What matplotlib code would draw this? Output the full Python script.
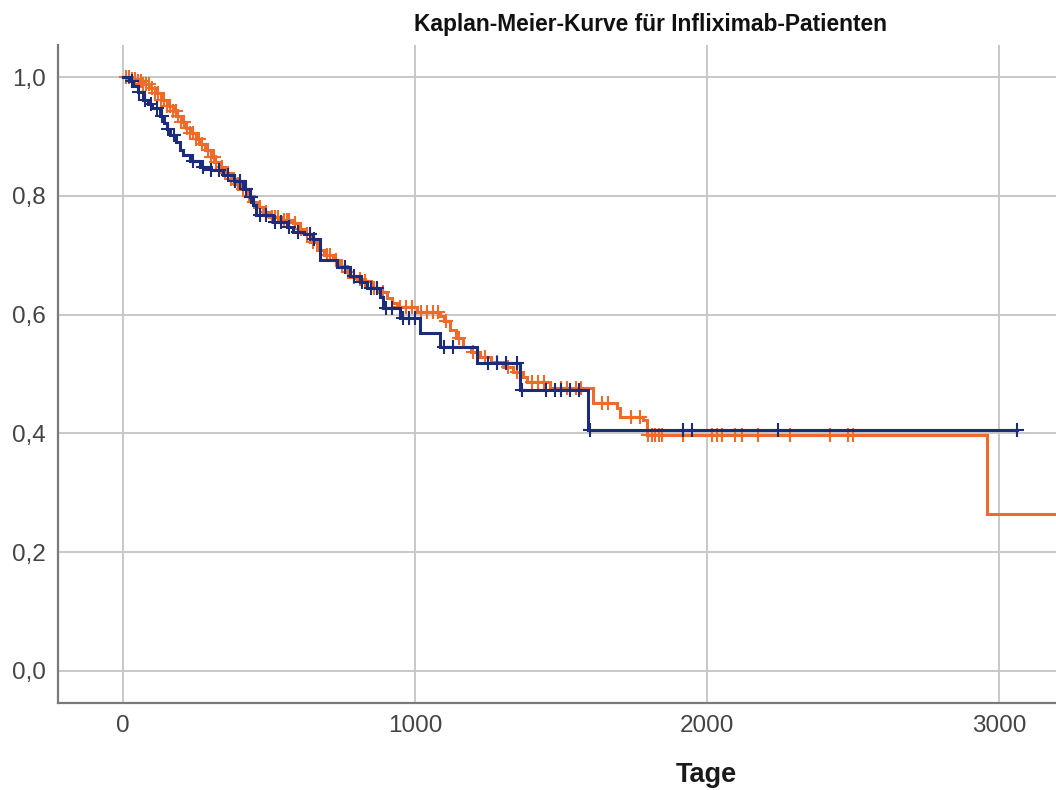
import numpy as np
import matplotlib
matplotlib.use("Agg")
import matplotlib.pyplot as plt
from matplotlib.ticker import FuncFormatter

# ---- data ----
navy_t = [0, 20, 35, 50, 68, 85, 100, 127, 140, 150, 161, 180, 195, 205, 230, 264, 300, 342,
          380, 411, 435, 445, 455, 514, 560, 582, 620, 651, 675, 733, 777, 810, 836, 880, 890,
          949, 1017, 1086, 1212, 1360, 1592]
navy_s = [1.0, 0.993, 0.985, 0.975, 0.962, 0.955, 0.948, 0.935, 0.922, 0.912, 0.902, 0.89,
          0.878, 0.868, 0.858, 0.848, 0.843, 0.835, 0.825, 0.812, 0.798, 0.785, 0.768, 0.756,
          0.748, 0.739, 0.735, 0.728, 0.692, 0.680, 0.665, 0.655, 0.645, 0.630, 0.612, 0.594,
          0.569, 0.545, 0.519, 0.473, 0.406]
navy_end = 3062
navy_cens = [30, 55, 75, 95, 115, 132, 155, 175, 240, 275, 300, 330, 360, 385, 400, 420, 440,
             470, 490, 520, 540, 570, 600, 640, 655, 760, 790, 820, 850, 870, 900, 920, 960,
             980, 1000, 1100, 1130, 1250, 1280, 1310, 1350, 1365, 1450, 1480, 1500, 1530,
             1560, 1600, 1918, 1949, 2243, 3062]

orange_t = [0, 30, 50, 70, 92, 110, 130, 150, 170, 185, 200, 215, 230, 250, 264, 280, 300, 315,
            332, 350, 370, 385, 401, 420, 440, 460, 480, 500, 540, 582, 600, 620, 640, 664, 690,
            719, 740, 760, 777, 800, 822, 850, 875, 904, 920, 938, 1007, 1086, 1100, 1120, 1140,
            1164, 1190, 1223, 1260, 1301, 1335, 1370, 1384, 1462, 1610, 1692, 1702, 1781, 1795,
            2959]
orange_s = [1.0, 0.997, 0.993, 0.988, 0.982, 0.973, 0.962, 0.952, 0.943, 0.935, 0.925, 0.915,
            0.905, 0.895, 0.887, 0.877, 0.866, 0.857, 0.848, 0.838, 0.828, 0.82, 0.812, 0.80,
            0.79, 0.782, 0.772, 0.764, 0.76, 0.754, 0.745, 0.735, 0.722, 0.709, 0.700, 0.692,
            0.682, 0.672, 0.663, 0.660, 0.656, 0.645, 0.638, 0.628, 0.62, 0.613, 0.604, 0.598,
            0.59, 0.574, 0.56, 0.545, 0.537, 0.529, 0.52, 0.512, 0.503, 0.495, 0.487, 0.476,
            0.451, 0.443, 0.428, 0.423, 0.397, 0.264]
orange_end = 3400
orange_cens = [10, 20, 30, 40, 50, 60, 70, 80, 90, 100, 110, 120, 130, 140, 150, 160, 170, 180,
               190, 200, 210, 220, 230, 240, 250, 260, 270, 290, 300, 310, 320, 340, 350, 360,
               370, 380, 395, 410, 430, 450, 470, 490, 510, 520, 530, 550, 560, 570, 590, 610,
               630, 650, 700, 710, 730, 750, 770, 790, 810, 830, 860, 890, 950, 970, 990, 1020,
               1040, 1060, 1080, 1105, 1150, 1200, 1240, 1280, 1320, 1350, 1400, 1420, 1440,
               1500, 1520, 1550, 1570, 1640, 1660, 1740, 1770, 1798, 1810, 1822, 1834, 1846,
               1918, 2017, 2034, 2051, 2096, 2120, 2175, 2284, 2421, 2483, 2500]

y_ticks = [0.0, 0.2, 0.4, 0.6, 0.8, 1.0]
x_ticks = [0, 1000, 2000, 3000]
title = "Kaplan-Meier-Kurve für Infliximab-Patienten"
xlabel = "Tage"

NAVY = "#1b2c7a"
ORANGE = "#f06a2a"

fig = plt.figure(figsize=(10.56, 7.90), dpi=100)
ax = fig.add_axes([58 / 1056, 87 / 790, 1 - 58 / 1056, (703 - 45) / 790])


def draw(t, s, end, cens, color, z):
    tt = np.array(t + [end], dtype=float)
    ss = np.array(s + [s[-1]], dtype=float)
    ax.step(tt, ss, where="post", color=color, lw=2.2, zorder=z, solid_joinstyle="miter")
    c = np.array(cens, dtype=float)
    idx = np.searchsorted(np.array(t, dtype=float), c, side="right") - 1
    ax.plot(c, np.array(s)[idx], ls="none", marker="+", ms=10, mew=1.5, color=color, zorder=z)


draw(navy_t, navy_s, navy_end, navy_cens, NAVY, 4)
draw(orange_t, orange_s, orange_end, orange_cens, ORANGE, 3)

ax.set_xlim(-222.6, 3195)
ax.set_ylim(-0.0539, 1.054)
ax.set_xticks(x_ticks)
ax.set_yticks(y_ticks)
ax.yaxis.set_major_formatter(FuncFormatter(lambda v, p: f"{v:.1f}".replace(".", ",")))
ax.grid(True, color="#c8c8c8", lw=1.4)
ax.set_axisbelow(True)
for side in ("top", "right"):
    ax.spines[side].set_visible(False)
for side in ("left", "bottom"):
    ax.spines[side].set_color("#7a7a7a")
    ax.spines[side].set_linewidth(1.6)
ax.tick_params(length=0, labelsize=17.5, colors="#444444", pad=9,
               labelfontfamily="Liberation Sans")

fig.text(651 / 1056, 1 - 25 / 790, title, ha="center", va="center", fontsize=16.4,
         fontweight="bold", family=["Liberation Sans", "DejaVu Sans"], color="#111111")
fig.text(706 / 1056, 1 - 775 / 790, xlabel, ha="center", va="center", fontsize=19.5,
         fontweight="bold", family=["Liberation Sans", "DejaVu Sans"], color="#1a1a1a")

fig.savefig("out.png", dpi=100)
